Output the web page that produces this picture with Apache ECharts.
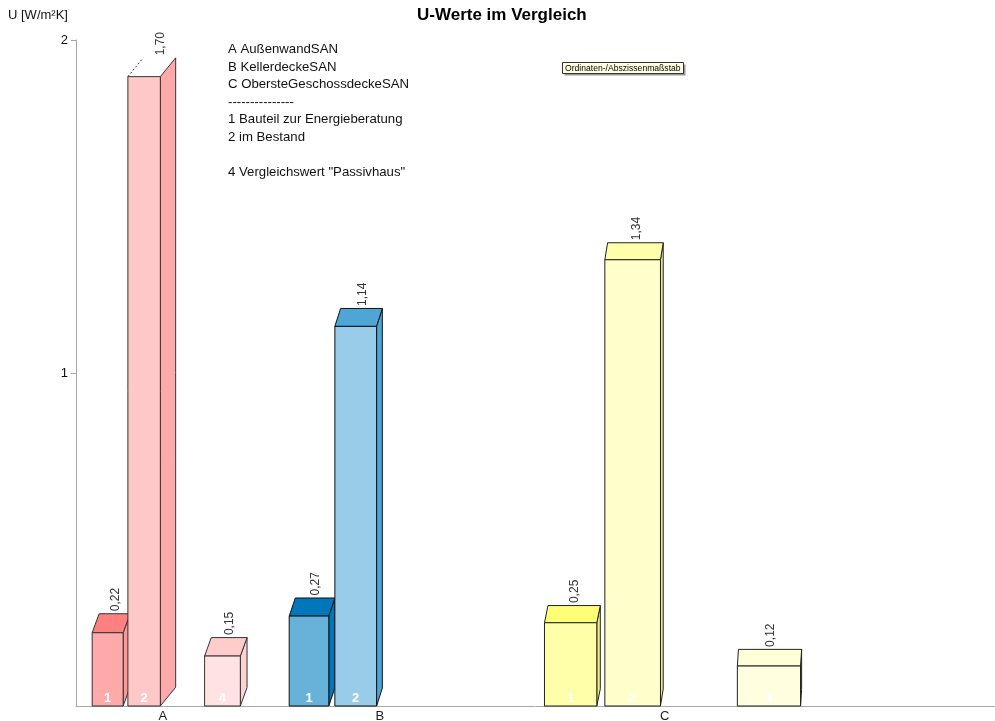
<!DOCTYPE html>
<html><head><meta charset="utf-8">
<script src="https://cdn.jsdelivr.net/npm/echarts@6/dist/echarts.min.js"></script>
<style>html,body{margin:0;padding:0;background:#fff}#chart{width:995px;height:721px}</style>
</head><body><div id="chart"></div>
<script>
// ---- data ----
const categories = ['A', 'B', 'C'];
const barCategory = ['A', 'A', 'A', 'B', 'B', 'C', 'C', 'C'];
const barMember   = ['1', '2', '4', '1', '2', '1', '2', '4'];
const barHeight   = [0.22, 1.89, 0.15, 0.27, 1.14, 0.25, 1.34, 0.12];
const barLabel    = ['0,22', '1,70', '0,15', '0,27', '1,14', '0,25', '1,34', '0,12'];
const yTicks = [0, 1, 2];
const legendLines = ['A AußenwandSAN', 'B KellerdeckeSAN', 'C ObersteGeschossdeckeSAN',
  '---------------', '1 Bauteil zur Energieberatung', '2 im Bestand', '', '4 Vergleichswert "Passivhaus"'];

// ---- styles ----
const FONT = '"Liberation Sans", Arial, sans-serif';
const palette = {
  A: { '1': ['#FFAAAA', '#FF8080', '#FF9595'], '2': ['#FFC8C8', '#FFB0B0', '#FFAAAA'], '4': ['#FFE2E2', '#FFCCCC', '#FFD2D2'] },
  B: { '1': ['#66B2D8', '#0077BB', '#0077BB'], '2': ['#99CCE8', '#4DA6D6', '#4DA6D6'] },
  C: { '1': ['#FFFFAA', '#FFFF77', '#F0F080'], '2': ['#FFFFCC', '#FFFFAA', '#E8E8A0'], '4': ['#FFFFE0', '#FFFFD8', '#F0F0C8'] }
};
const outline = { A: '#333333', B: '#111111', C: '#222222' };

// perspective of the depth axis: slot -> axis value
const GRID_LEFT = 76;
function proj(s) { return (33.14 * s + 107.5) / (1 - 0.02304 * s) - GRID_LEFT; }
function slotOf(i) { return categories.indexOf(barCategory[i]) * 5 + (Number(barMember[i]) - 1); }

const barData = barHeight.map((h, i) => [proj(slotOf(i)), h]);
const catData = categories.map((c, k) => [proj(k * 5 + 1.5), 0]);

function renderBar(params, api) {
  const i = params.dataIndex;
  const s = slotOf(i);
  const cat = barCategory[i], mem = barMember[i];
  const col = palette[cat][mem];
  const stroke = outline[cat];
  const xl = api.coord([proj(s - 0.435), 0])[0];
  const xr = api.coord([proj(s + 0.435), 0])[0];
  const y0 = api.coord([0, 0])[1];
  const yt = api.coord([0, api.value(1)])[1];
  const broken = parseFloat(barLabel[i].replace(',', '.')) < barHeight[i] - 0.05;
  let dx = Math.max(0, 7 - 0.035 * s * s);
  const dy = 19 - 0.18 * s;
  if (broken) dx *= 2.2;
  const children = [];
  children.push({ type: 'polygon', shape: { points: [[xr, y0], [xr, yt], [xr + dx, yt - dy], [xr + dx, y0 - dy]] },
    style: { fill: col[2], stroke: stroke, lineWidth: 1 } });
  if (!broken) {
    children.push({ type: 'polygon', shape: { points: [[xl, yt], [xl + dx, yt - dy], [xr + dx, yt - dy], [xr, yt]] },
      style: { fill: col[1], stroke: stroke, lineWidth: 1 } });
  } else {
    children.push({ type: 'line', shape: { x1: xl, y1: yt, x2: xl + dx, y2: yt - dy },
      style: { stroke: '#444', lineWidth: 1, lineDash: [2, 2] } });
  }
  children.push({ type: 'rect', shape: { x: xl, y: yt, width: xr - xl, height: y0 - yt },
    style: { fill: col[0], stroke: stroke, lineWidth: 1 } });
  children.push({ type: 'text', x: (xl + xr) / 2, y: y0 - 1,
    style: { text: mem, fill: '#ffffff', font: 'bold 13px ' + FONT, align: 'center', verticalAlign: 'bottom',
      textAlign: 'center', textVerticalAlign: 'bottom' } });
  children.push({ type: 'text', x: (xl + xr) / 2 + dx + 1, y: yt - dy - 2.5, rotation: Math.PI / 2,
    style: { text: barLabel[i], fill: '#333333', font: '12px ' + FONT, align: 'left', verticalAlign: 'middle',
      textAlign: 'left', textVerticalAlign: 'middle' } });
  return { type: 'group', children: children };
}

function renderCat(params, api) {
  const p = api.coord([api.value(0), 0]);
  return { type: 'text', x: p[0], y: p[1] + 10,
    style: { text: categories[params.dataIndex], fill: '#222', font: '13px ' + FONT, align: 'center', verticalAlign: 'middle',
      textAlign: 'center', textVerticalAlign: 'middle' } };
}

const chart = echarts.init(document.getElementById('chart'), null, { renderer: 'canvas' });
chart.setOption({
  animation: false,
  backgroundColor: '#ffffff',
  title: { text: 'U-Werte im Vergleich', left: 417, top: 7, padding: 0,
    textStyle: { fontFamily: FONT, fontSize: 17, fontWeight: 'bold', color: '#000' } },
  grid: { left: GRID_LEFT, right: 0, top: 40, bottom: 15 },
  xAxis: { type: 'value', min: 0, max: 919, axisLine: { show: true, onZero: false, lineStyle: { color: '#a8a8a8' } },
    axisTick: { show: false }, axisLabel: { show: false }, splitLine: { show: false } },
  yAxis: { type: 'value', min: yTicks[0], max: yTicks[yTicks.length - 1], interval: 1,
    axisLine: { show: true, lineStyle: { color: '#a8a8a8' } },
    axisTick: { show: true, length: 5, lineStyle: { color: '#a8a8a8' } },
    axisLabel: { fontFamily: FONT, fontSize: 13, color: '#111', margin: 8, showMinLabel: false },
    splitLine: { show: false } },
  graphic: [
    { type: 'text', left: 8, top: 9, style: { text: 'U [W/m²K]', font: '13px ' + FONT, fill: '#111' } },
    { type: 'text', left: 228, top: 40.5, style: { text: legendLines.join('\n'), font: '13.2px ' + FONT, fill: '#111', lineHeight: 17.6 } },
    { type: 'group', left: 562, top: 62, children: [
      { type: 'rect', shape: { x: 2, y: 2, width: 121, height: 11 }, style: { fill: '#9a9a9a' } },
      { type: 'rect', shape: { x: 0, y: 0, width: 121, height: 11 }, style: { fill: '#FFFFE1', stroke: '#333', lineWidth: 1 } },
      { type: 'text', x: 2.5, y: 5.8, style: { text: 'Ordinaten-/Abszissenmaßstab', font: '8.6px ' + FONT, fill: '#000',
        verticalAlign: 'middle', textVerticalAlign: 'middle' } }
    ] }
  ],
  series: [
    { type: 'custom', renderItem: renderBar, data: barData, encode: { x: 0, y: 1 }, clip: false },
    { type: 'custom', renderItem: renderCat, data: catData, encode: { x: 0, y: 1 }, clip: false }
  ]
});
</script>
</body></html>
